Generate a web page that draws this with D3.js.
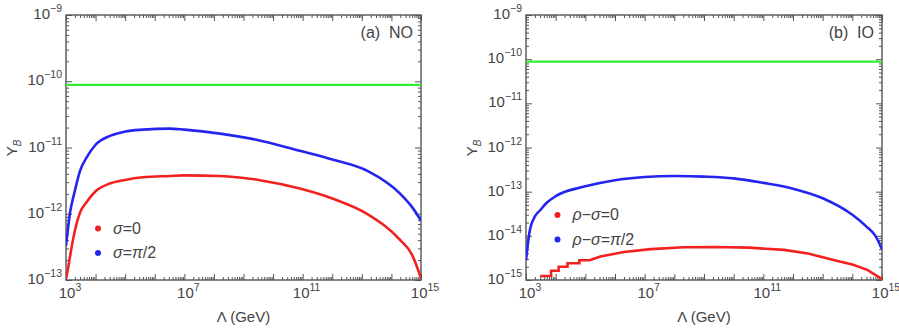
<!DOCTYPE html>
<html>
<head>
<meta charset="utf-8">
<script src="https://cdn.jsdelivr.net/npm/d3@7"></script>
<style>
  body { margin: 0; background: #fff; }
  text { font-family: "Liberation Sans", Arial, sans-serif; fill: #444; }
</style>
</head>
<body>
<div id="chart"></div>
<script>
// observed Y_B (horizontal line, both panels)
const yObs = 8.8e-11;

// (a) NO : Lambda grid (GeV) and Y_B for each sigma
const lambdaNO = [1e3, 1.2e3, 1.35e3, 1.6e3, 2e3, 3e3, 5e3, 1e4, 3.2e4, 1e5, 4e5, 3.2e6, 1e7,
                  1.6e8, 3.2e9, 8e10, 1e12, 1.6e13, 2e14, 5e14, 1e15];
const noSigma0 = [1.05e-13, 1.58e-13, 2.19e-13, 3.39e-13, 5.6e-13, 1.05e-12, 1.51e-12, 2.19e-12,
                  2.88e-12, 3.24e-12, 3.55e-12, 3.72e-12, 3.8e-12, 3.72e-12, 3.24e-12, 2.4e-12,
                  1.7e-12, 9.8e-13, 4.0e-13, 2.4e-13, 1.07e-13];
const noSigmaPi2 = [3.3e-13, 6.6e-13, 1.0e-12, 1.48e-12, 2.24e-12, 4.47e-12, 7.08e-12, 1.1e-11,
                    1.51e-11, 1.74e-11, 1.86e-11, 1.93e-11, 1.86e-11, 1.62e-11, 1.29e-11, 8.9e-12,
                    6.6e-12, 4.4e-12, 2.0e-12, 1.26e-12, 7.9e-13];

// (b) IO
const lambdaIO = [1e3, 1.35e3, 2e3, 3e3, 5e3, 1e4, 1e5, 1e6, 1e7, 1e8, 1e9, 1e10, 1e11, 1e12,
                  1e13, 1e14, 3e14, 6e14, 1e15];
const ioPi2 = [2.8e-15, 1.35e-14, 2.75e-14, 3.8e-14, 5.6e-14, 7.9e-14, 1.32e-13, 1.82e-13,
               2.14e-13, 2.26e-13, 2.19e-13, 2.0e-13, 1.58e-13, 1.17e-13, 7.1e-14, 3.0e-14,
               1.62e-14, 1.0e-14, 5.0e-15];
// rho-sigma = 0 is stepped at low Lambda, so it has its own grid
const lambdaIO0 = [3.0e3, 7.0e3, 7.0e3, 1.26e4, 1.26e4, 2.5e4, 2.5e4, 6.3e4, 6.3e4, 1.4e5, 3.2e5,
                   2.0e6, 1.6e7, 2.0e8, 2.5e9, 3.2e10, 5.0e11, 3.2e12, 2.5e13, 1e14, 3.2e14, 1e15];
const io0 = [1.23e-15, 1.23e-15, 1.62e-15, 1.62e-15, 2.0e-15, 2.0e-15, 2.4e-15, 2.4e-15, 2.8e-15,
             2.8e-15, 3.4e-15, 4.3e-15, 5.0e-15, 5.5e-15, 5.6e-15, 5.4e-15, 4.8e-15, 4.0e-15,
             2.8e-15, 2.24e-15, 1.7e-15, 1.05e-15];

const xLabelExps = [3, 7, 11, 15];

let width = 899,
    height = 330;

const red = "#f32020", blue = "#2424f0", green = "#33ee33", frame = "#555";

const svg = d3.select("#chart")
  .append("svg")
  .attr("width", width)
  .attr("height", height);

function pow10label(sel, base, exp) {
  sel.append("tspan").text(base);
  sel.append("tspan")
    .attr("dy", -7)
    .style("font-size", "10.5px")
    .text(exp < 0 ? "\u2212" + (-exp) : exp);
}

function drawPanel(p) {
  const x = d3.scaleLog().domain([1e3, 1e15]).range([p.x0, p.x1]);
  const y = d3.scaleLog().domain([Math.pow(10, p.yMinExp), 1e-9]).range([280, 15]);

  const g = svg.append("g");
  const clipId = "clip" + p.id;
  g.append("clipPath").attr("id", clipId)
    .append("rect")
    .attr("x", p.x0).attr("y", 15)
    .attr("width", p.x1 - p.x0).attr("height", 265);

  // ticks
  const xMajor = d3.range(3, 16).map(k => Math.pow(10, k));
  const xMinor = d3.range(3, 15).flatMap(k => d3.range(2, 10).map(m => m * Math.pow(10, k)));
  const yMajor = d3.range(p.yMinExp, -8).map(k => Math.pow(10, k));
  const yMinor = d3.range(p.yMinExp, -9).flatMap(k => d3.range(2, 10).map(m => m * Math.pow(10, k)));

  const axes = [
    [d3.axisBottom(x), "translate(0,280)", xMajor, xMinor],
    [d3.axisTop(x), "translate(0,15)", xMajor, xMinor],
    [d3.axisLeft(y), "translate(" + p.x0 + ",0)", yMajor, yMinor],
    [d3.axisRight(y), "translate(" + p.x1 + ",0)", yMajor, yMinor]
  ];
  axes.forEach(function (a) {
    [[a[2], 6], [a[3], 3]].forEach(function (t) {
      const ax = g.append("g")
        .attr("transform", a[1])
        .call(a[0].tickValues(t[0]).tickSize(-t[1]).tickFormat(""));
      ax.select(".domain").remove();
      ax.selectAll("line").attr("stroke", frame).attr("stroke-width", 1);
    });
  });

  g.append("rect")
    .attr("x", p.x0).attr("y", 15)
    .attr("width", p.x1 - p.x0).attr("height", 265)
    .attr("fill", "none")
    .attr("stroke", frame)
    .attr("stroke-width", 1.4);

  // tick labels
  xLabelExps.forEach(function (k) {
    const t = g.append("text")
      .attr("x", x(Math.pow(10, k)) + 4)
      .attr("y", 298)
      .attr("text-anchor", "middle")
      .style("font-size", "15px");
    pow10label(t, "10", k);
  });
  d3.range(p.yMinExp, -8).forEach(function (k) {
    const t = g.append("text")
      .attr("x", p.x0 - 4)
      .attr("y", y(Math.pow(10, k)) + 4)
      .attr("text-anchor", "end")
      .style("font-size", "15px");
    pow10label(t, "10", k);
  });

  // axis titles
  g.append("text")
    .attr("x", (p.x0 + p.x1) / 2)
    .attr("y", 322)
    .attr("text-anchor", "middle")
    .style("font-size", "15px")
    .text("\u039B (GeV)");
  const yl = g.append("text")
    .attr("transform", "translate(" + p.yLabelX + ",148) rotate(-90)")
    .attr("text-anchor", "middle")
    .style("font-size", "15px");
  yl.append("tspan").text("Y");
  yl.append("tspan").attr("dy", 4).style("font-size", "10px").style("font-style", "italic").text("B");

  g.append("text")
    .attr("x", p.x1 - 8)
    .attr("y", 38)
    .attr("text-anchor", "end")
    .style("font-size", "16px")
    .attr("xml:space", "preserve")
    .text(p.title);

  // curves
  const plot = g.append("g").attr("clip-path", "url(#" + clipId + ")");

  plot.append("line")
    .attr("x1", x(1e3)).attr("x2", x(1e15))
    .attr("y1", y(yObs)).attr("y2", y(yObs))
    .attr("stroke", green)
    .attr("stroke-width", 2.2);

  p.series.forEach(function (s) {
    const line = d3.line()
      .x(d => x(d[0]))
      .y(d => y(d[1]))
      .curve(s.curve);
    plot.append("path")
      .datum(d3.zip(s.lambda, s.values))
      .attr("fill", "none")
      .attr("stroke", s.color)
      .attr("stroke-width", 2.6)
      .attr("d", line);
  });

  // legend
  p.series.forEach(function (s, i) {
    const ly = p.legendY + i * 24.5;
    g.append("circle")
      .attr("cx", p.legendX).attr("cy", ly)
      .attr("r", 3)
      .attr("fill", s.color);
    const t = g.append("text")
      .attr("x", p.legendX + 15)
      .attr("y", ly + 5)
      .style("font-size", "16px");
    s.label.forEach(function (part) {
      t.append("tspan")
        .style("font-style", part[1] ? "italic" : "normal")
        .text(part[0]);
    });
  });
}

drawPanel({
  id: "a", x0: 66, x1: 421, yMinExp: -13, yLabelX: 17, title: "(a)  NO",
  legendX: 98, legendY: 228.5,
  series: [
    { lambda: lambdaNO, values: noSigma0, color: red, curve: d3.curveMonotoneX,
      label: [["\u03C3", true], ["=0", false]] },
    { lambda: lambdaNO, values: noSigmaPi2, color: blue, curve: d3.curveMonotoneX,
      label: [["\u03C3", true], ["=", false], ["\u03C0", true], ["/2", false]] }
  ]
});

drawPanel({
  id: "b", x0: 526, x1: 882, yMinExp: -15, yLabelX: 477, title: "(b)  IO",
  legendX: 557.5, legendY: 215,
  series: [
    { lambda: lambdaIO0, values: io0, color: red, curve: d3.curveLinear,
      label: [["\u03C1", true], ["\u2212", false], ["\u03C3", true], ["=0", false]] },
    { lambda: lambdaIO, values: ioPi2, color: blue, curve: d3.curveMonotoneX,
      label: [["\u03C1", true], ["\u2212", false], ["\u03C3", true], ["=", false], ["\u03C0", true], ["/2", false]] }
  ]
});
</script>
</body>
</html>
